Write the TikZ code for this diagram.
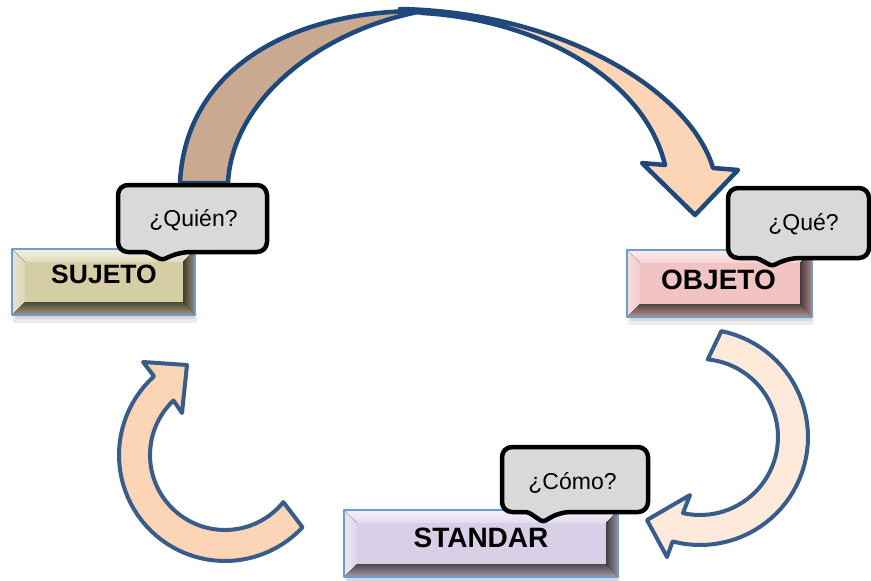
\documentclass[tikz,border=0pt]{standalone}
\usepackage{fontspec}
\setmainfont{Liberation Sans}
\definecolor{arrowblue}{HTML}{1F497D}
\definecolor{lowblue}{HTML}{385D8A}
\definecolor{brownband}{HTML}{C9A98F}
\definecolor{peach}{HTML}{FBD5B5}
\definecolor{palepeach}{HTML}{FDEADA}
\definecolor{callgray}{HTML}{D9D9D9}
\definecolor{edgeblue}{HTML}{6F9BD3}
\definecolor{tanface}{HTML}{D5CEA4}
\definecolor{pinkface}{HTML}{F2C3C3}
\definecolor{lilacface}{HTML}{D9D0E8}

% beveled button: x1, y1, x2, y2, face colour
\newcommand\bevelbox[5]{%
  \fill[black,opacity=.07] (#1+1,#4-2) rectangle (#3+2,#4+8);
  \fill[black,opacity=.09] (#1+3,#4) rectangle (#3,#4+4);
  \fill[top color=#5!30!white, bottom color=#5!75!white]
    (#1,#2) -- (#3,#2) -- (#3-12,#2+13) -- (#1+13,#2+13) -- cycle;
  \fill[left color=#5!55!white, right color=#5!85!white]
    (#1,#2) -- (#1+13,#2+13) -- (#1+13,#4-13) -- (#1,#4) -- cycle;
  \fill[left color=#5!30!black, right color=#5!70!black]
    (#3,#2) -- (#3,#4) -- (#3-12,#4-13) -- (#3-12,#2+13) -- cycle;
  \fill[top color=#5!35!black, bottom color=#5!75!black]
    (#1,#4) -- (#3,#4) -- (#3-12,#4-13) -- (#1+13,#4-13) -- cycle;
  \fill[#5] (#1+13,#2+13) rectangle (#3-12,#4-13);
  \draw[edgeblue, line width=1.8pt] (#1,#2) rectangle (#3,#4);
}

% speech bubble: left, top, right, bottom, pointer base left, tip x, tip y, pointer base right
\newcommand\speech[8]{%
  \draw[black, line width=4.5pt, fill=callgray, rounded corners=10pt]
    (#1,#2) -- (#3,#2) -- (#3,#4) -- (#8,#4)
    [rounded corners=3pt] -- (#6,#7) -- (#5,#4)
    [rounded corners=10pt] -- (#1,#4) -- cycle;
}

\begin{document}
\begin{tikzpicture}[x=1pt, y=-1pt, line join=round,
  bigarrow/.style={draw=arrowblue, line width=4.5pt},
  lowarrow/.style={draw=lowblue, line width=4pt},
  tag/.style={font=\fontsize{23}{26}\selectfont, anchor=base, inner sep=0pt},
  label/.style={font=\bfseries\fontsize{28}{32}\selectfont, inner sep=0pt}]
\useasboundingbox (0,0) rectangle (871,581);

% large arc arrow from SUJETO over to OBJETO
\filldraw[bigarrow, fill=brownband]
  (180,183) .. controls (185,70) and (290,10) .. (423,11)
  .. controls (320,30) and (232,100) .. (228,183) -- cycle;
\filldraw[bigarrow, fill=peach]
  (400,9) .. controls (560,12) and (690,90) .. (713,168)
  -- (738,170) -- (695,215) -- (642,163) -- (665,165)
  .. controls (645,80) and (540,20) .. (423,13) -- cycle;

% curved arrow from STANDAR back up to SUJETO
\filldraw[lowarrow, fill=peach]
  plot[domain=226.6:38.9, samples=50] ({225+75*cos(\x)},{455+75*sin(\x)})
  -- plot[domain=43:228, samples=50] ({225+106*cos(\x)},{455+106*sin(\x)})
  -- (143,362) -- (187,365) -- (182,413) -- cycle;

% curved arrow from OBJETO down to STANDAR
\filldraw[lowarrow, fill=palepeach]
  plot[domain=-78.6:104.7, samples=50] ({700+108*cos(\x)},{437+108*sin(\x)})
  -- (667,557) -- (647,520) -- (690,495)
  -- plot[domain=102.6:-84.3, samples=50] ({700+78*cos(\x)},{437+78*sin(\x)})
  -- cycle;

% buttons
\bevelbox{12}{249}{195}{315}{tanface}
\bevelbox{627}{250}{812}{317}{pinkface}
\bevelbox{344}{510}{618}{577}{lilacface}
\node[label, font=\bfseries\fontsize{26.5}{30}\selectfont] (sujeto) at (104,274) {SUJETO};
\node[label] (objeto) at (718.5,280) {OBJETO};
\node[label] (standar) at (481,538) {STANDAR};

% question bubbles
\speech{118}{185}{267}{252}{147}{162}{260}{180}
\speech{728}{188}{869}{258}{757}{772}{266}{789}
\speech{502}{447}{648}{512}{528}{543}{522}{560}
\node[tag] (quien) at (193.5,226) {¿Quién?};
\node[tag] (que) at (803.5,230) {¿Qué?};
\node[tag] (como) at (572.5,489) {¿Cómo?};
\end{tikzpicture}
\end{document}
